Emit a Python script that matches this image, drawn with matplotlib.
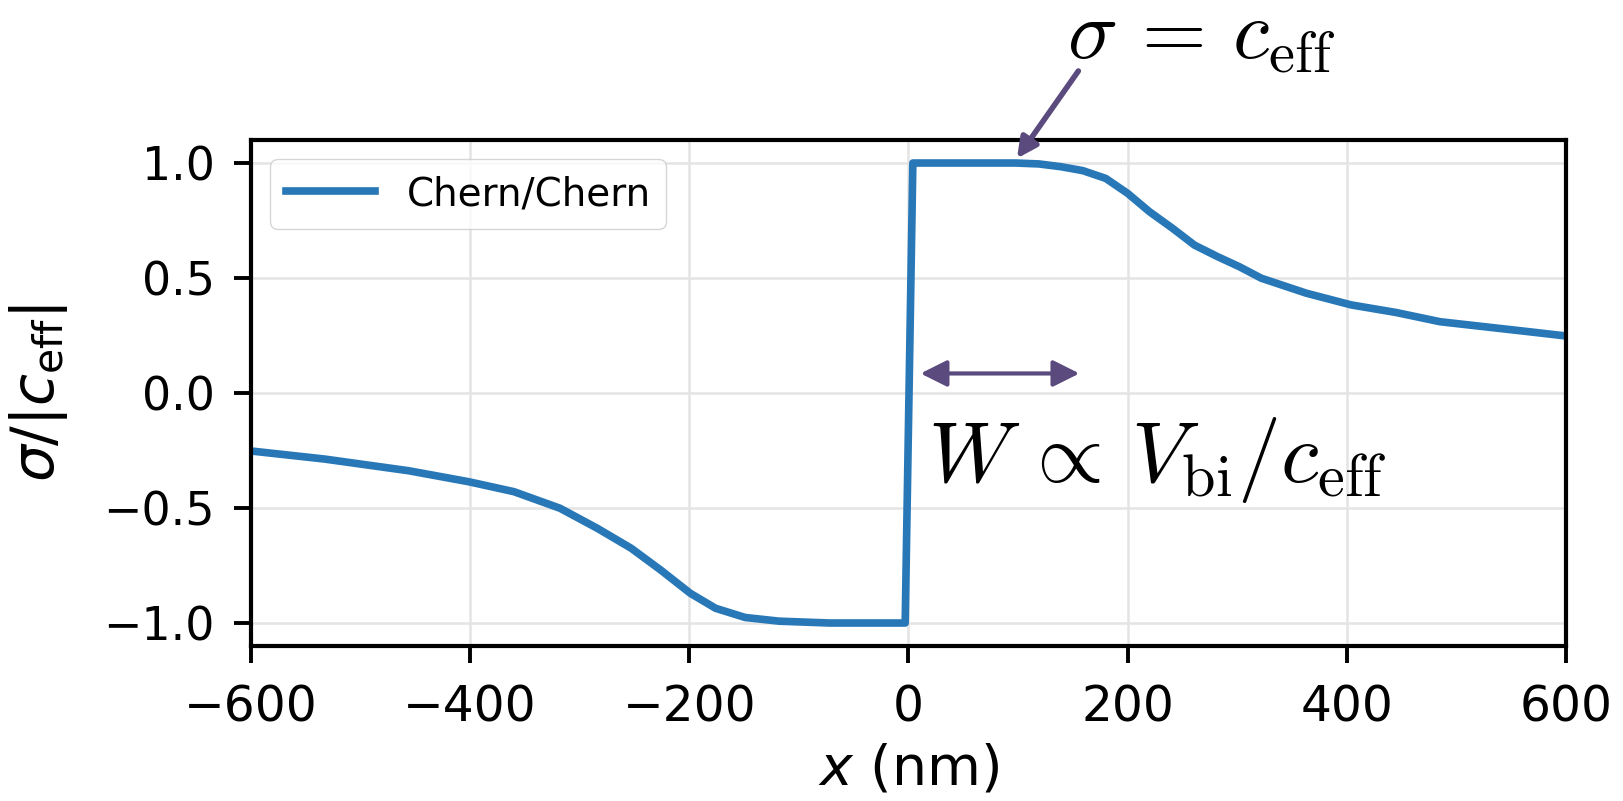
import matplotlib
matplotlib.use("Agg")
import matplotlib.pyplot as plt

# sigma / |c_eff| across the Chern/Chern junction
x_left = [-600, -533, -456, -401, -360, -318, -284, -253, -226, -199, -176,
          -149, -118, -72, -3]
sig_left = [-0.252, -0.287, -0.338, -0.386, -0.429, -0.501, -0.588, -0.675,
            -0.770, -0.871, -0.936, -0.976, -0.992, -1.0, -1.0]
x_right = [4, 50, 98, 119, 139, 159, 180, 200, 220, 241, 261, 282, 302, 322,
           363, 404, 445, 485, 526, 567, 600]
sig_right = [1.0, 1.0, 1.0, 0.996, 0.984, 0.967, 0.933, 0.868, 0.788, 0.716,
             0.643, 0.593, 0.549, 0.499, 0.434, 0.383, 0.35, 0.31, 0.288,
             0.266, 0.248]

xs = x_left + x_right
sig = sig_left + sig_right

xticks = [-600, -400, -200, 0, 200, 400, 600]
yticks = [-1.0, -0.5, 0.0, 0.5, 1.0]

arrow_col = "#5b4a7e"

fig = plt.figure(figsize=(16.24, 8.01), dpi=100)
ax = fig.add_axes([0.1545, 0.1935, 0.8098, 0.6317])

ax.plot(xs, sig, color="#2878b8", lw=5.5, label="Chern/Chern")

ax.set_xlim(-600, 600)
ax.set_ylim(-1.1, 1.1)
ax.set_xticks(xticks)
ax.set_yticks(yticks)
ax.grid(True, color="#e4e4e4", lw=1.8)
ax.set_axisbelow(True)

for s in ax.spines.values():
    s.set_linewidth(3)
ax.tick_params(length=12, width=2.8)
ax.tick_params(axis="x", labelsize=35, pad=15)
ax.tick_params(axis="y", labelsize=33, pad=14)

ax.set_xlabel("$x$ (nm)", fontsize=40, labelpad=8)
ax.set_ylabel(r"$\sigma/|c_{\rm eff}|$", fontsize=42, labelpad=24)

ax.legend(loc="upper left", fontsize=28, handlelength=2.3, framealpha=0.8,
          edgecolor="#cccccc")

# width arrow and annotation labels
ax.annotate("", xy=(11, 0.085), xytext=(156, 0.085),
            arrowprops=dict(arrowstyle="<|-|>", color=arrow_col, lw=3,
                            mutation_scale=40, shrinkA=0, shrinkB=0))
ax.annotate("", xy=(99, 1.02), xytext=(155, 1.40), annotation_clip=False,
            arrowprops=dict(arrowstyle="-|>", color=arrow_col, lw=4,
                            mutation_scale=30, shrinkA=0, shrinkB=0))

fig.text(0.657, 0.927, r"$\sigma\,=\,c_{\rm eff}$", fontsize=60,
         math_fontfamily="cm", va="baseline")
fig.text(0.5714, 0.3986, r"$W\,\propto\,V_{\rm bi}/c_{\rm eff}$", fontsize=62,
         math_fontfamily="cm", va="baseline")

fig.savefig("out.png", dpi=100)
